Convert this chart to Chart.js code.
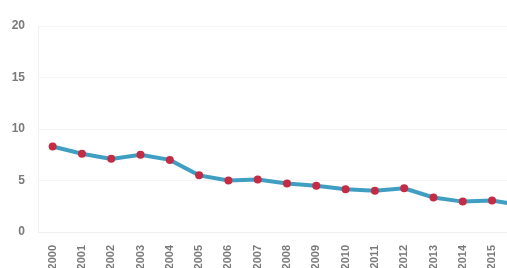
<!DOCTYPE html>
<html>
<head>
<meta charset="utf-8">
<script src="https://cdn.jsdelivr.net/npm/chart.js@4"></script>
<style>
    html, body { margin: 0; padding: 0; background: #fff; overflow: hidden; }
    #wrap { width: 540px; height: 268px; }
</style>
</head>
<body>
<div id="wrap"><canvas id="lineChart"></canvas></div>
<script>
// years on the x axis (last one is cut off at the right edge, like the picture)
const years = ["2000", "2001", "2002", "2003", "2004", "2005", "2006", "2007", "2008",
    "2009", "2010", "2011", "2012", "2013", "2014", "2015", "2016"];
const values = [8.3, 7.6, 7.1, 7.5, 7.0, 5.5, 5.0, 5.1, 4.7, 4.5, 4.15, 4.0, 4.25, 3.35, 2.95, 3.05, 2.6];
const yTicks = [0, 5, 10, 15, 20];

const tickFont = { family: "'Liberation Sans', Arial, sans-serif", size: 12, weight: "bold" };

const ctx = document.getElementById("lineChart").getContext("2d");
new Chart(ctx, {
    type: "line",
    data: {
        labels: years,
        datasets: [{
            data: values,
            borderColor: "#3f9fc3",
            borderWidth: 4,
            tension: 0,
            pointRadius: 4,
            pointBackgroundColor: "#c42b44",
            pointBorderWidth: 0,
            fill: false
        }]
    },
    options: {
        responsive: true,
        maintainAspectRatio: false,
        animation: false,
        layout: { padding: { top: 26, right: 0, left: 0, bottom: 0 } },
        plugins: {
            legend: { display: false },
            tooltip: { enabled: false }
        },
        scales: {
            x: {
                offset: true,
                grid: { display: false },
                border: { color: "#f0f0f0" },
                ticks: {
                    color: "#7a7a7a",
                    font: { ...tickFont, size: 11 },
                    minRotation: 90,
                    maxRotation: 90,
                    padding: 5,
                    autoSkip: false
                },
                afterFit: scale => { scale.height = 36; }
            },
            y: {
                min: 0,
                max: 20,
                afterBuildTicks: scale => { scale.ticks = yTicks.map(v => ({ value: v })); },
                grid: { color: "#f5f5f5", drawTicks: false },
                border: { color: "#f0f0f0" },
                ticks: {
                    color: "#7a7a7a",
                    font: tickFont,
                    padding: 13
                },
                afterFit: scale => { scale.width = 38; }
            }
        }
    }
});
</script>
</body>
</html>
